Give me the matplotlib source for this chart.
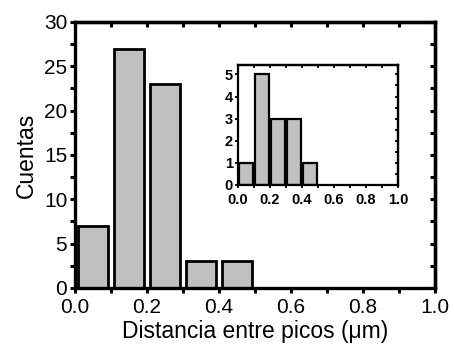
import numpy as np
import matplotlib
matplotlib.use('Agg')
import matplotlib.pyplot as plt
from matplotlib.ticker import MultipleLocator, NullFormatter

plt.rcParams['font.family'] = ['Liberation Sans', 'DejaVu Sans']

# main histogram
centers = [0.05, 0.15, 0.25, 0.35, 0.45]
counts = [7, 27, 23, 3, 3]
# inset histogram
inset_centers = [0.05, 0.15, 0.25, 0.35, 0.45]
inset_counts = [1, 5, 3, 3, 1]


def style_axes(a, ymaj, ymin, lw, tlen, tw):
    a.xaxis.set_major_locator(MultipleLocator(0.2))
    a.xaxis.set_minor_locator(MultipleLocator(0.1))
    a.yaxis.set_major_locator(MultipleLocator(ymaj))
    a.yaxis.set_minor_locator(MultipleLocator(ymin))
    a.xaxis.set_major_formatter(plt.FormatStrFormatter('%.1f'))
    for s in a.spines.values():
        s.set_linewidth(lw)
    a.tick_params(which='both', direction='out', width=tw, length=tlen)
    # inward ticks on top and right
    top = a.secondary_xaxis('top')
    right = a.secondary_yaxis('right')
    top.xaxis.set_major_locator(MultipleLocator(0.1))
    right.yaxis.set_major_locator(MultipleLocator(ymin))
    for sec in (top, right):
        sec.tick_params(which='both', direction='in', width=tw, length=tlen)
        sec.xaxis.set_major_formatter(NullFormatter())
        sec.yaxis.set_major_formatter(NullFormatter())
        for s in sec.spines.values():
            s.set_linewidth(lw)


fig = plt.figure(figsize=(4.54, 3.49), dpi=100)

ax = fig.add_axes([0.165, 0.175, 0.793, 0.762])
ax.bar(centers, counts, width=0.084, color='#c0c0c0', edgecolor='black', linewidth=2)
ax.set_xlim(0, 1.0)
ax.set_ylim(0, 30)
style_axes(ax, 5, 2.5, 2.4, 3.5, 2.2)
ax.tick_params(which='major', labelsize=15)
ax.tick_params(axis='x', which='major', pad=4)
ax.tick_params(axis='y', which='major', pad=2)
ax.set_xlabel('Distancia entre picos (\u03bcm)', fontsize=16.5, labelpad=2)
ax.set_ylabel('Cuentas', fontsize=16.5, labelpad=4)

ins = fig.add_axes([0.524, 0.470, 0.353, 0.344])
ins.bar(inset_centers, inset_counts, width=0.084, color='#c0c0c0', edgecolor='black', linewidth=1.6)
ins.set_xlim(0, 1.0)
ins.set_ylim(0, 5.43)
style_axes(ins, 1, 0.5, 1.6, 2, 1.3)
ins.yaxis.set_minor_locator(MultipleLocator(1))
ins.tick_params(which='major', labelsize=10.5)
ins.tick_params(axis='x', which='major', pad=3.5)
ins.tick_params(axis='y', which='major', pad=1.5)
for lbl in ins.get_xticklabels() + ins.get_yticklabels():
    lbl.set_fontweight('bold')

fig.savefig('out.png', dpi=100)
